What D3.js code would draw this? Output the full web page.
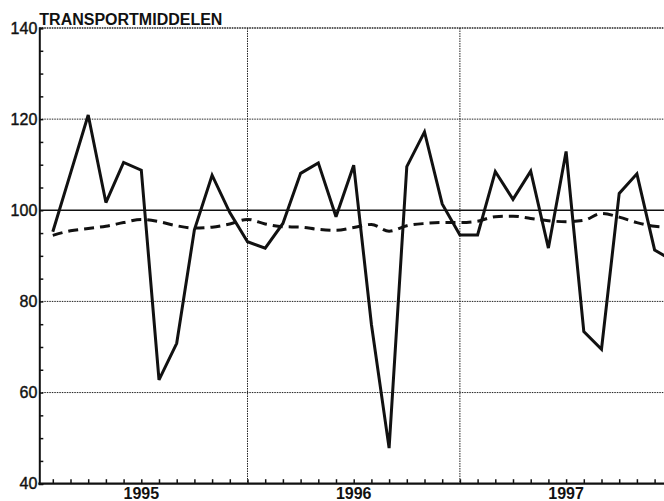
<!DOCTYPE html>
<html>
<head>
<meta charset="utf-8">
<script src="https://cdn.jsdelivr.net/npm/d3@7"></script>
<style>
    body { margin: 0; background: #fff; }
    text { font-family: "Liberation Sans", Arial, sans-serif; fill: #111; }
</style>
</head>
<body>
<script>
var title = "TRANSPORTMIDDELEN";

// one value per month, jan 1995 .. dec 1997, plotted at the month's end
var monthly = [95.3, 108.1, 120.9, 101.7, 110.5, 108.8, 62.8, 70.8, 95.7, 107.7, 99.5, 93.1,
               91.7, 97.1, 108.1, 110.4, 98.6, 109.9, 75.0, 47.8, 109.6, 117.2, 101.4, 94.6,
               94.6, 108.5, 102.4, 108.6, 91.7, 112.9, 73.4, 69.5, 103.7, 108.0, 91.3, 89.0];
var trend = [94.5, 95.5, 96.0, 96.5, 97.3, 98.0, 97.5, 96.6, 96.1, 96.3, 97.0, 98.0,
             97.0, 96.4, 96.3, 95.8, 95.6, 96.2, 96.9, 95.4, 96.6, 97.1, 97.3, 97.3,
             97.6, 98.6, 98.7, 98.2, 97.7, 97.5, 97.8, 99.3, 98.5, 97.3, 96.5, 96.3];
var years = ["1995", "1996", "1997"];
var yTicks = [40, 60, 80, 100, 120, 140];

var width = 664, height = 501;
var plotLeft = 39.3, plotTop = 28, plotBottom = 483.7;

var svg = d3.select("body")
    .append("svg")
    .attr("width", width)
    .attr("height", height);

var xScale = d3.scaleLinear().domain([0, 36]).range([35.1, 35.1 + 36 * 17.7]);
var yScale = d3.scaleLinear().domain([40, 140]).range([plotBottom, plotTop]);

// dotted grid
var grid = svg.append("g")
    .attr("stroke", "#222")
    .attr("stroke-width", 1)
    .attr("stroke-dasharray", "1.5,1");

grid.selectAll("line.h")
    .data(yTicks.filter(function(d) { return d != 40 && d != 100; }))
    .enter()
    .append("line")
    .attr("x1", plotLeft)
    .attr("x2", width)
    .attr("y1", function(d) { return yScale(d); })
    .attr("y2", function(d) { return yScale(d); });

grid.selectAll("line.v")
    .data([12, 24])
    .enter()
    .append("line")
    .attr("x1", function(d) { return xScale(d); })
    .attr("x2", function(d) { return xScale(d); })
    .attr("y1", plotTop)
    .attr("y2", plotBottom);

// solid 100 line
svg.append("line")
    .attr("x1", plotLeft)
    .attr("x2", width)
    .attr("y1", yScale(100))
    .attr("y2", yScale(100))
    .attr("stroke", "#111")
    .attr("stroke-width", 1.6);

// y axis with minor ticks every 5
var yAxis = d3.axisRight(yScale)
    .tickValues(d3.range(40, 141, 5))
    .tickSize(4)
    .tickFormat("");
svg.append("g")
    .attr("transform", "translate(" + plotLeft + ",0)")
    .call(yAxis)
    .call(function(g) {
        g.select(".domain").attr("stroke-width", 2).attr("stroke", "#111");
        g.selectAll(".tick line").attr("stroke-width", 1.5).attr("stroke", "#111");
    });

svg.selectAll("text.ylab")
    .data(yTicks)
    .enter()
    .append("text")
    .attr("x", plotLeft - 2)
    .attr("y", function(d) { return yScale(d) + 5.5; })
    .attr("text-anchor", "end")
    .style("font-size", "16px")
    .style("stroke", "#111")
    .style("stroke-width", 0.4)
    .text(function(d) { return d; });

// x axis, a tick at every month
var xAxis = d3.axisTop(xScale)
    .tickValues(d3.range(1, 37))
    .tickSize(4.5)
    .tickFormat("");
svg.append("g")
    .attr("transform", "translate(0," + plotBottom + ")")
    .call(xAxis)
    .call(function(g) {
        g.select(".domain").remove();
        g.selectAll(".tick line").attr("stroke-width", 1.5).attr("stroke", "#111");
    });
svg.append("line")
    .attr("x1", plotLeft - 1)
    .attr("x2", width)
    .attr("y1", plotBottom)
    .attr("y2", plotBottom)
    .attr("stroke", "#111")
    .attr("stroke-width", 2.2);

svg.selectAll("text.year")
    .data(years)
    .enter()
    .append("text")
    .attr("x", function(d, i) { return xScale(6 + i * 12); })
    .attr("y", 499)
    .attr("text-anchor", "middle")
    .style("font-size", "16px")
    .style("font-weight", "bold")
    .text(function(d) { return d; });

// title sits on the top line
svg.append("text")
    .attr("x", plotLeft)
    .attr("y", 25)
    .style("font-size", "16px")
    .style("font-weight", "bold")
    .text(title);

// trend, dashed
var trendLine = d3.line()
    .x(function(d, i) { return xScale(i + 1); })
    .y(function(d) { return yScale(d); })
    .curve(d3.curveMonotoneX);
svg.append("path")
    .attr("d", trendLine(trend))
    .style("fill", "none")
    .style("stroke", "#111")
    .style("stroke-width", 3)
    .style("stroke-dasharray", "10,6");

// monthly values, solid
var valueLine = d3.line()
    .x(function(d, i) { return xScale(i + 1); })
    .y(function(d) { return yScale(d); });
svg.append("path")
    .attr("d", valueLine(monthly))
    .style("fill", "none")
    .style("stroke", "#111")
    .style("stroke-width", 3)
    .style("stroke-linejoin", "miter")
    .style("stroke-miterlimit", 3);

// dotted top border over everything
svg.append("line")
    .attr("x1", plotLeft)
    .attr("x2", width)
    .attr("y1", plotTop)
    .attr("y2", plotTop)
    .attr("stroke", "#222")
    .attr("stroke-width", 1.2)
    .attr("stroke-dasharray", "1.5,1");
</script>
</body>
</html>
